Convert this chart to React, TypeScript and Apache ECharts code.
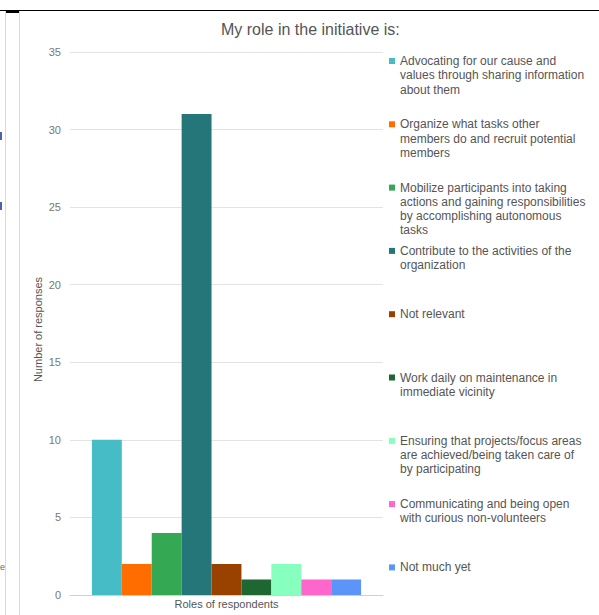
import React, { useEffect, useRef } from "react";
import * as echarts from "echarts";

// Survey question and axis titles
const TITLE = "My role in the initiative is:";
const Y_NAME = "Number of responses";
const X_NAME = "Roles of respondents";

// Answer options, stored as the lines they are shown on in the legend
const ROLE_LINES: string[][] = [
  ["Advocating for our cause and", "values through sharing information", "about them"],
  ["Organize what tasks other", "members do and recruit potential", "members"],
  ["Mobilize participants into taking", "actions and gaining responsibilities", "by accomplishing autonomous", "tasks"],
  ["Contribute to the activities of the", "organization"],
  ["Not relevant"],
  ["Work daily on maintenance in", "immediate vicinity"],
  ["Ensuring that projects/focus areas", "are achieved/being taken care of", "by participating"],
  ["Communicating and being open", "with curious non-volunteers"],
  ["Not much yet"],
];

// Number of responses per option
const RESPONSES: number[] = [10, 2, 4, 31, 2, 1, 2, 1, 1];

const COLORS: string[] = [
  "#46bdc6",
  "#ff6d01",
  "#34a853",
  "#257678",
  "#994200",
  "#1e6632",
  "#87ffbf",
  "#ff66cc",
  "#5b95f9",
];

const Y_TICKS = { min: 0, max: 35, interval: 5 };

const FONT = "Arial, 'Liberation Sans', sans-serif";
const LINE_H = 14.3;
const LEGEND_FIRST = 61;
const LEGEND_STEP = 63.3;
const ICON = 6;

export default function App() {
  const ref = useRef<HTMLDivElement>(null);

  useEffect(() => {
    document.body.style.margin = "0";
    if (!ref.current) return;
    const chart = echarts.init(ref.current, null, { renderer: "svg" });

    const names = ROLE_LINES.map((l) => l.join(" "));

    const series = names.map((name, i) => ({
      type: "bar" as const,
      name,
      data: [RESPONSES[i]],
      barGap: "0%",
      barCategoryGap: "14%",
      itemStyle: { color: COLORS[i] },
    }));

    // One legend block per option so every entry sits on its own row slot.
    // Blank lines ahead of the text keep the marker level with the first line,
    // since the legend centres the text block on its marker.
    const legends = names.map((name, i) => {
      const n = ROLE_LINES[i].length;
      const centre = LEGEND_FIRST + i * LEGEND_STEP;
      return {
        data: [name],
        left: 389,
        top: centre - ((2 * n - 1) * LINE_H) / 2,
        padding: 0,
        icon: "rect",
        itemWidth: ICON,
        itemHeight: ICON,
        selectedMode: false,
        formatter: () => "\n".repeat(n - 1) + ROLE_LINES[i].join("\n"),
        textStyle: {
          fontFamily: FONT,
          fontSize: 12,
          color: "#555555",
          lineHeight: LINE_H,
        },
      };
    });

    chart.setOption({
      animation: false,
      backgroundColor: "#ffffff",
      textStyle: { fontFamily: FONT },
      title: {
        text: TITLE,
        left: 221,
        top: 21,
        padding: 0,
        textStyle: {
          fontFamily: FONT,
          fontSize: 16,
          fontWeight: "normal",
          color: "#555555",
        },
      },
      grid: { left: 70, right: 216, top: 52, bottom: 20, containLabel: false },
      legend: legends,
      xAxis: {
        type: "category",
        data: [""],
        name: X_NAME,
        nameLocation: "middle",
        nameGap: 3,
        nameMoveOverlap: false,
        nameTextStyle: { fontFamily: FONT, fontSize: 11, color: "#555555" },
        axisLine: { show: true, lineStyle: { color: "#d0d0d0", width: 1 } },
        axisTick: { show: false },
        axisLabel: { show: false },
      },
      yAxis: {
        type: "value",
        min: Y_TICKS.min,
        max: Y_TICKS.max,
        interval: Y_TICKS.interval,
        name: Y_NAME,
        nameLocation: "middle",
        nameGap: 27,
        nameMoveOverlap: false,
        nameTextStyle: { fontFamily: FONT, fontSize: 11, color: "#555555", padding: [0, 12, 0, 0] },
        axisLine: { show: false },
        axisTick: { show: false },
        axisLabel: { fontFamily: FONT, fontSize: 11, color: "#777777", margin: 9 },
        splitLine: { lineStyle: { color: "#e3e3e3", width: 1 } },
      },
      series,
      graphic: [
        // sheet frame around the chart
        { type: "line", shape: { x1: 0, y1: 10.5, x2: 599, y2: 10.5 }, style: { stroke: "#000000", lineWidth: 1 } },
        { type: "rect", shape: { x: 6, y: 11, width: 13, height: 2 }, style: { fill: "#000000" } },
        { type: "line", shape: { x1: 5.5, y1: 11, x2: 5.5, y2: 615 }, style: { stroke: "#d9d9d9", lineWidth: 1 } },
        { type: "line", shape: { x1: 19.5, y1: 11, x2: 19.5, y2: 615 }, style: { stroke: "#d9d9d9", lineWidth: 1 } },
        { type: "rect", shape: { x: 0, y: 132, width: 2, height: 8 }, style: { fill: "#4a63a8" } },
        { type: "rect", shape: { x: 0, y: 202, width: 2, height: 8 }, style: { fill: "#4a63a8" } },
        {
          type: "text",
          x: 0,
          y: 567,
          style: { text: "e", fontFamily: FONT, fontSize: 9, fill: "#666666", verticalAlign: "middle" },
        },
      ],
    });

    return () => chart.dispose();
  }, []);

  return <div ref={ref} style={{ width: 599, height: 615 }} />;
}
